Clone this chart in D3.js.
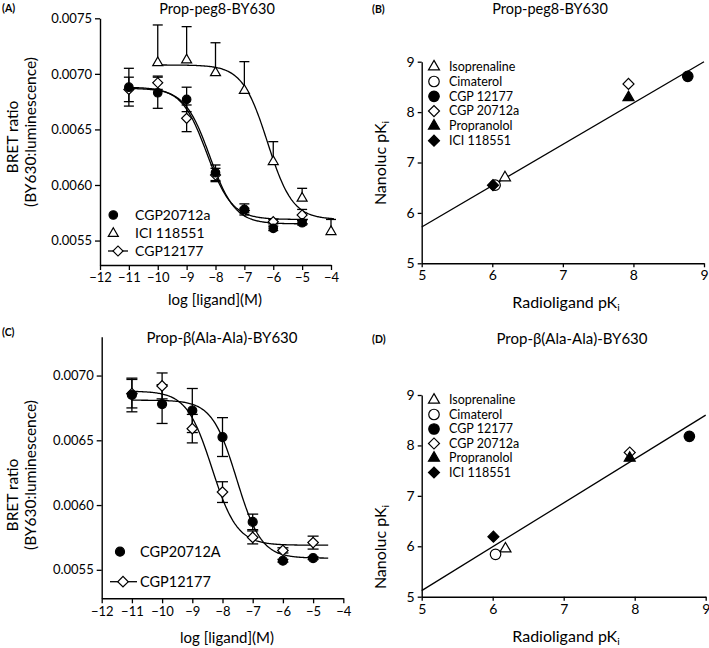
<!DOCTYPE html>
<html><head><meta charset="utf-8">
<script src="https://cdn.jsdelivr.net/npm/d3@7"></script>
<style>body{margin:0;background:#fff}svg{display:block;font-family:Lato,sans-serif}</style>
</head><body><svg id="c" width="709" height="648"></svg>
<script>
// ---------- Panel A data (Prop-peg8-BY630) ----------
const logConcA_CGP20712a = [-11,-10,-9,-8,-7,-6,-5];
const bretA_CGP20712a   = [0.00688,0.00683,0.00677,0.00611,0.00578,0.00561,0.00566];
const semA_CGP20712a    = [0.00017,0.00014,0.00011,0.00007,0.00005,0.00002,0.00002];
const logConcA_ICI      = [-10,-9,-8,-7,-6,-5,-4];
const bretA_ICI         = [0.00710,0.007125,0.00701,0.00685,0.00621,0.00588,0.00558];
const semA_ICI          = [0.00034,0.00030,0.00027,0.00026,0.00018,0.00009,0.00011];
const logConcA_CGP12177 = [-11,-10,-9,-8,-7,-6,-5];
const bretA_CGP12177    = [0.00686,0.00692,0.00660,0.00609,0.00577,0.00567,0.00573];
const semA_CGP12177     = [0.00011,0.00006,0.00012,0.00006,0.00002,0.00002,0.00005];
// fitted curve parameters A: [CGP20712a, ICI 118551, CGP12177]
const fitA_top    = [0.00687,0.00708,0.00688];
const fitA_bottom = [0.00565,0.00569,0.00569];
const fitA_logIC50= [-8.2,-6.2,-8.3];
const fitA_hill   = [1,1,1];
const fitA_from   = [-11,-10,-11];
const fitA_to     = [-4.8,-3.9,-4.8];

// ---------- Panel C data (Prop-β(Ala-Ala)-BY630) ----------
const logConcC_CGP20712A = [-11,-10,-9,-8,-7,-6,-5];
const bretC_CGP20712A    = [0.00685,0.00678,0.00673,0.006525,0.00587,0.00557,0.00559];
const semC_CGP20712A     = [0.00013,0.00015,0.00017,0.00015,0.00006,0.00001,0.00001];
const logConcC_CGP12177  = [-11,-10,-9,-8,-7,-6,-5];
const bretC_CGP12177     = [0.00686,0.00692,0.00659,0.00610,0.00575,0.00565,0.00571];
const semC_CGP12177      = [0.00011,0.00010,0.00011,0.00008,0.00005,0.00002,0.00005];
const fitC_top    = [0.00681,0.00688];
const fitC_bottom = [0.00559,0.00569];
const fitC_logIC50= [-7.53,-8.35];
const fitC_hill   = [1.07,1.04];
const fitC_from   = [-11,-11];
const fitC_to     = [-4.5,-4.5];

// ---------- Panels B & D data ----------
const ligands    = ["Isoprenaline","Cimaterol","CGP 12177","CGP 20712a","Propranolol","ICI 118551"];
const ligShape   = ["triangle","circle","circle","diamond","triangle","diamond"];
const ligFilled  = [false,false,true,false,true,true];
const radioPKi   = [6.18,6.04,8.77,7.93,7.93,6.01];
const nanolucPKi_B = [6.70,6.55,8.71,8.56,8.29,6.55];
const nanolucPKi_D = [5.95,5.84,8.18,7.86,7.75,6.19];
const regB = [1.62,0.82]; // intercept, slope
const regD = [0.77,0.87];

const xTicksAC = [-12,-11,-10,-9,-8,-7,-6,-5,-4];
const yTicksA = [0.0055,0.0060,0.0065,0.0070,0.0075];
const yTicksC = [0.0055,0.0060,0.0065,0.0070];
const pkTicks = [5,6,7,8,9];

const svg = d3.select("#c");
svg.append("rect").attr("width",709).attr("height",648).attr("fill","#fff");

const xA = d3.scaleLinear([-12,-4],[100,331]);
const yA = d3.scaleLinear([0.00528,0.0075],[265,18.3]);
const xC = d3.scaleLinear([-12,-4],[101.7,343.3]);
const yC = d3.scaleLinear([0.00528,0.0073],[598.3,336.7]);
const xB = d3.scaleLinear([5,9],[421.7,704]);
const yB = d3.scaleLinear([5,9],[263.3,61.7]);
const xD = d3.scaleLinear([5,9],[421.7,705.7]);
const yD = d3.scaleLinear([5,9],[596.7,395]);

function styleAxis(g, fs){
  g.attr("font-family","Lato, sans-serif").attr("font-size",fs);
  g.select(".domain").attr("stroke","#000").attr("stroke-width",1.4);
  g.selectAll(".tick line").attr("stroke","#000").attr("stroke-width",1.3);
  g.selectAll(".tick text").attr("fill","#000");
}
function drawAxes(xs, ys, xt, yt, xfmt, yfmt, tl, fs){
  const gx = svg.append("g").attr("transform",`translate(0,${ys.range()[0]})`)
    .call(d3.axisBottom(xs).tickValues(xt).tickFormat(xfmt).tickSize(tl).tickSizeOuter(0).tickPadding(3));
  styleAxis(gx, fs);
  const gy = svg.append("g").attr("transform",`translate(${xs.range()[0]},0)`)
    .call(d3.axisLeft(ys).tickValues(yt).tickFormat(yfmt).tickSize(tl).tickSizeOuter(0).tickPadding(3));
  styleAxis(gy, fs);
}

function marker(g, shape, x, y, w, filled){
  let path, rot = 0;
  if(shape==="circle") path = d3.symbol(d3.symbolCircle, Math.PI*(w/2)*(w/2))();
  else if(shape==="triangle") path = d3.symbol(d3.symbolTriangle, Math.sqrt(3)/4*w*w)();
  else { path = d3.symbol(d3.symbolSquare, (w/Math.SQRT2)*(w/Math.SQRT2))(); rot = 45; }
  g.append("path").attr("d",path)
    .attr("transform",`translate(${x},${y}) rotate(${rot})`)
    .attr("fill", filled ? "#000" : "#fff")
    .attr("stroke","#000").attr("stroke-width",1.2);
}

function errBars(g, xs, ys, xv, yv, sv, upOnly, cap){
  xv.forEach((x,i)=>{
    const px = xs(x), top = ys(yv[i]+sv[i]), bot = upOnly ? ys(yv[i]) : ys(yv[i]-sv[i]);
    g.append("line").attr("x1",px).attr("x2",px).attr("y1",top).attr("y2",bot).attr("stroke","#000").attr("stroke-width",1.3);
    g.append("line").attr("x1",px-cap/2).attr("x2",px+cap/2).attr("y1",top).attr("y2",top).attr("stroke","#000").attr("stroke-width",1.3);
    if(!upOnly) g.append("line").attr("x1",px-cap/2).attr("x2",px+cap/2).attr("y1",bot).attr("y2",bot).attr("stroke","#000").attr("stroke-width",1.3);
  });
}

function curve(g, xs, ys, top, bottom, logIC50, hill, from, to){
  const pts = d3.range(0,201).map(k=>{
    const x = from + (to-from)*k/200;
    return [xs(x), ys(bottom + (top-bottom)/(1+Math.pow(10, hill*(x-logIC50))))];
  });
  g.append("path").attr("d",d3.line()(pts)).attr("fill","none").attr("stroke","#000").attr("stroke-width",1.3);
}

function text(x,y,str,opt={}){
  const t = svg.append("text").attr("x",x).attr("y",y).attr("font-size",opt.fs||15)
    .attr("text-anchor",opt.anchor||"middle").attr("fill","#000");
  if(opt.bold) t.attr("font-weight","bold");
  if(opt.rot) t.attr("transform",`rotate(-90,${x},${y})`);
  if(opt.dy) t.attr("dy",opt.dy);
  t.text(str);
  return t;
}
function pkText(x,y,prefix,opt={}){
  const t = text(x,y,"",opt);
  t.append("tspan").text(prefix+"pK");
  t.append("tspan").attr("font-size",(opt.fs||15)*0.65).attr("dy",3).text("i");
  return t;
}

const fmtX = d3.format("d");
const fmtY = d3.format(".4f");
const fmtPK = d3.format("d");

// ===== Panel A =====
drawAxes(xA, yA, xTicksAC, yTicksA, fmtX, fmtY, 5, 13);
const gA = svg.append("g");
[0,1,2].forEach(i=>curve(gA, xA, yA, fitA_top[i], fitA_bottom[i], fitA_logIC50[i], fitA_hill[i], fitA_from[i], fitA_to[i]));
errBars(gA, xA, yA, logConcA_ICI, bretA_ICI, semA_ICI, true, 10);
errBars(gA, xA, yA, logConcA_CGP20712a, bretA_CGP20712a, semA_CGP20712a, false, 10);
errBars(gA, xA, yA, logConcA_CGP12177, bretA_CGP12177, semA_CGP12177, false, 10);
logConcA_ICI.forEach((x,i)=>marker(gA,"triangle",xA(x),yA(bretA_ICI[i]),10,false));
logConcA_CGP12177.forEach((x,i)=>marker(gA,"diamond",xA(x),yA(bretA_CGP12177[i]),10,false));
logConcA_CGP20712a.forEach((x,i)=>marker(gA,"circle",xA(x),yA(bretA_CGP20712a[i]),8.5,true));
// legend A
marker(gA,"circle",113.3,215,8.5,true);
marker(gA,"triangle",113.3,233.5,10,false);
gA.append("line").attr("x1",108).attr("x2",128).attr("y1",251).attr("y2",251).attr("stroke","#000").attr("stroke-width",1.3);
marker(gA,"diamond",118,251,10,false);
text(135,215,"CGP20712a",{fs:14,anchor:"start",dy:"0.35em"});
text(135,233.5,"ICI 118551",{fs:14,anchor:"start",dy:"0.35em"});
text(135,251,"CGP12177",{fs:14,anchor:"start",dy:"0.35em"});
text(217,13.5,"Prop-peg8-BY630",{fs:14.5});
text(2,12,"(A)",{fs:10.5,anchor:"start",bold:true});
text(18,137,"BRET ratio",{fs:15.5,rot:true});
text(36,132,"(BY630:luminescence)",{fs:15.5,rot:true});
text(215,305,"log [ligand](M)",{fs:15});

// ===== Panel C =====
drawAxes(xC, yC, xTicksAC, yTicksC, fmtX, fmtY, 5, 13);
const gC = svg.append("g");
[0,1].forEach(i=>curve(gC, xC, yC, fitC_top[i], fitC_bottom[i], fitC_logIC50[i], fitC_hill[i], fitC_from[i], fitC_to[i]));
errBars(gC, xC, yC, logConcC_CGP20712A, bretC_CGP20712A, semC_CGP20712A, false, 11);
errBars(gC, xC, yC, logConcC_CGP12177, bretC_CGP12177, semC_CGP12177, false, 11);
logConcC_CGP12177.forEach((x,i)=>marker(gC,"diamond",xC(x),yC(bretC_CGP12177[i]),10.5,false));
logConcC_CGP20712A.forEach((x,i)=>marker(gC,"circle",xC(x),yC(bretC_CGP20712A[i]),9,true));
marker(gC,"circle",120,551.7,9,true);
gC.append("line").attr("x1",110).attr("x2",137).attr("y1",581.7).attr("y2",581.7).attr("stroke","#000").attr("stroke-width",1.3);
marker(gC,"diamond",123,581.7,10.5,false);
text(140,551.7,"CGP20712A",{fs:14.5,anchor:"start",dy:"0.35em"});
text(140,581.7,"CGP12177",{fs:14.5,anchor:"start",dy:"0.35em"});
text(222,343,"Prop-β(Ala-Ala)-BY630",{fs:15});
text(2,336,"(C)",{fs:10.5,anchor:"start",bold:true});
text(18,495,"BRET ratio",{fs:15.5,rot:true});
text(36,475,"(BY630:luminescence)",{fs:15.5,rot:true});
text(227,643,"log [ligand](M)",{fs:15});

// ===== Panels B & D =====
function pkPanel(xs, ys, nano, reg, legY0, legStep){
  drawAxes(xs, ys, pkTicks, pkTicks, fmtPK, fmtPK, 4, 14);
  const g = svg.append("g");
  g.append("line").attr("x1",xs(5)).attr("x2",xs(9)).attr("y1",ys(reg[0]+reg[1]*5)).attr("y2",ys(reg[0]+reg[1]*9))
    .attr("stroke","#000").attr("stroke-width",1.3);
  ligands.forEach((l,i)=>marker(g, ligShape[i], xs(radioPKi[i]), ys(nano[i]), ligShape[i]==="circle"?10.5:11, ligFilled[i]));
  ligands.forEach((l,i)=>{
    const y = legY0 + legStep*i;
    marker(g, ligShape[i], 434, y, ligShape[i]==="circle"?10.5:11, ligFilled[i]);
    text(449, y, l, {fs:12.5, anchor:"start", dy:"0.35em"});
  });
}
pkPanel(xB, yB, nanolucPKi_B, regB, 66.7, 14.8);
text(550,13.5,"Prop-peg8-BY630",{fs:14.5});
text(372,13,"(B)",{fs:10.5,anchor:"start",bold:true});
pkText(386,163,"Nanoluc ",{fs:16,rot:true});
pkText(566,308,"Radioligand ",{fs:16});

pkPanel(xD, yD, nanolucPKi_D, regD, 400, 14.5);
text(572,343.5,"Prop-β(Ala-Ala)-BY630",{fs:15});
text(372,343,"(D)",{fs:10.5,anchor:"start",bold:true});
pkText(386,547,"Nanoluc ",{fs:16,rot:true});
pkText(566,642,"Radioligand ",{fs:16});
</script></body></html>
